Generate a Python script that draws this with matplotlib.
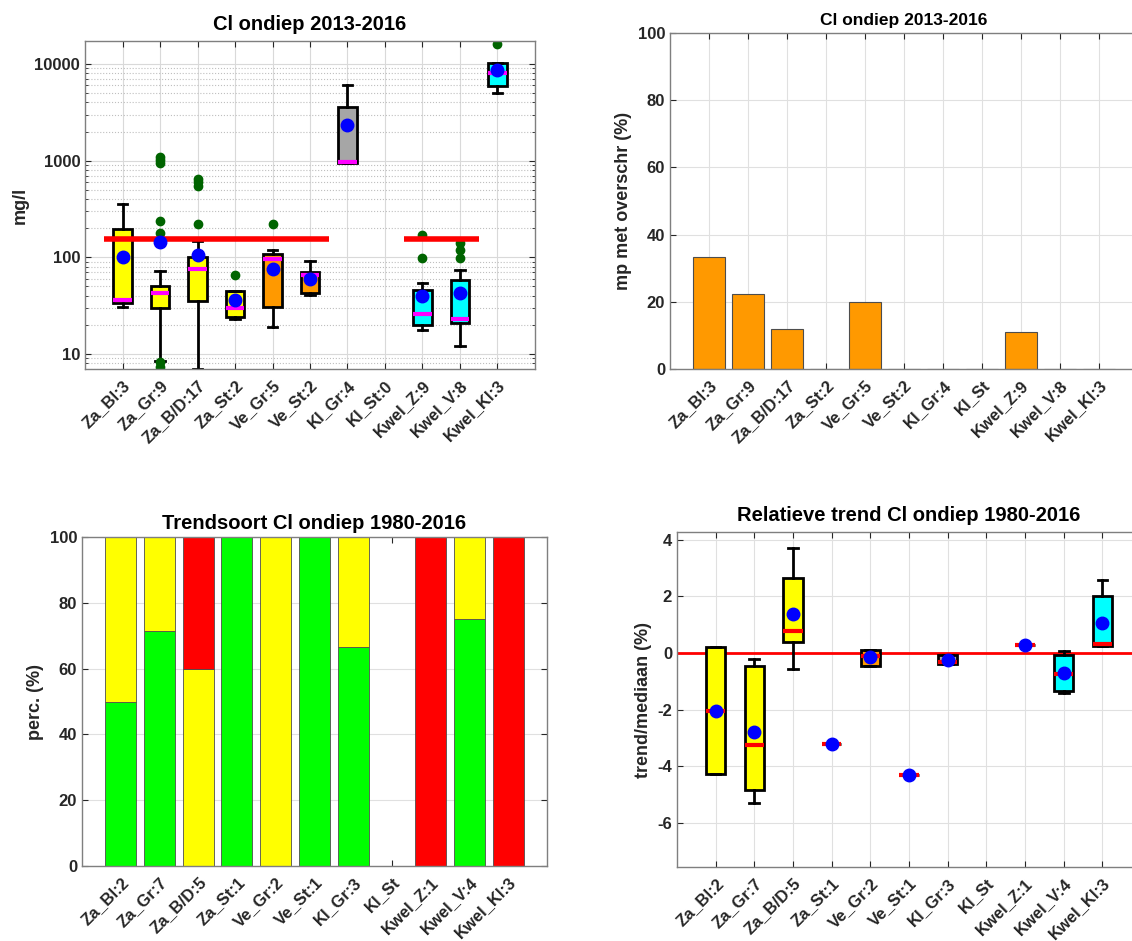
import numpy as np
import matplotlib
matplotlib.use("Agg")
import matplotlib.pyplot as plt

plt.rcParams['font.family'] = ['Liberation Sans', 'DejaVu Sans']
plt.rcParams['font.weight'] = 'bold'
plt.rcParams['axes.labelweight'] = 'bold'
plt.rcParams['axes.titleweight'] = 'bold'
plt.rcParams['axes.unicode_minus'] = False

# ---- data: Cl ondiep 2013-2016 (boxplots, mg/l) ----
labels_tl = ['Za_Bl:3', 'Za_Gr:9', 'Za_B/D:17', 'Za_St:2', 'Ve_Gr:5', 'Ve_St:2',
             'Kl_Gr:4', 'Kl_St:0', 'Kwel_Z:9', 'Kwel_V:8', 'Kwel_Kl:3']
groups = ['Za', 'Za', 'Za', 'Za', 'Ve', 'Ve', 'Kl', 'Kl', 'Kwel', 'Kwel', 'Kwel']
tl_whislo = [30.8, 8.5, 7.0, 22.8, 18.8, 40.5, 938, None, 17.7, 12.1, 5020]
tl_q1 = [33.8, 29.6, 35.1, 23.9, 30.8, 42.3, 938, None, 19.8, 20.7, 5890]
tl_med = [36, 42.3, 76.4, 29.8, 96, 66.4, 977, None, 25.8, 23.1, 8020]
tl_q3 = [196, 50.6, 99.6, 44.3, 109, 70.5, 3600, None, 45.7, 58, 10160]
tl_whishi = [352, 71.8, 148.6, 44.3, 120, 91, 6080, None, 54.3, 73.5, 10160]
tl_mean = [100, 144, 105, 36, 75, 60.2, 2333, None, 39.6, 42.3, 8730]
tl_fliers = [[], [1099, 1016, 947, 237, 178, 8.3, 7.3], [647, 600, 550, 219], [66.4],
             [219], [], [], [], [172, 98.5], [142, 118, 98.5], [15960]]
norm_value = 155
norm_ranges = [(0.5, 6.5), (8.5, 10.5)]

# ---- data: % meetpunten met overschrijding ----
labels_tr = ['Za_Bl:3', 'Za_Gr:9', 'Za_B/D:17', 'Za_St:2', 'Ve_Gr:5', 'Ve_St:2',
             'Kl_Gr:4', 'Kl_St', 'Kwel_Z:9', 'Kwel_V:8', 'Kwel_Kl:3']
tr_values = [33.3, 22.2, 11.8, 0, 20, 0, 0, 0, 11.1, 0, 0]

# ---- data: trendsoort 1980-2016 ----
labels_bl = ['Za_Bl:2', 'Za_Gr:7', 'Za_B/D:5', 'Za_St:1', 'Ve_Gr:2', 'Ve_St:1',
             'Kl_Gr:3', 'Kl_St', 'Kwel_Z:1', 'Kwel_V:4', 'Kwel_Kl:3']
bl_green = [50, 71.4, 0, 100, 0, 100, 66.7, 0, 0, 75, 0]
bl_yellow = [50, 28.6, 60, 0, 100, 0, 33.3, 0, 0, 25, 0]
bl_red = [0, 0, 40, 0, 0, 0, 0, 0, 100, 0, 100]

# ---- data: relatieve trend 1980-2016 ----
labels_br = labels_bl
br_whislo = [-4.28, -5.29, -0.58, -3.22, -0.45, -4.32, -0.40, None, 0.27, -1.42, 0.26]
br_q1 = [-4.28, -4.83, 0.40, -3.22, -0.45, -4.32, -0.40, None, 0.27, -1.34, 0.26]
br_med = [-2.03, -3.26, 0.78, -3.22, -0.10, -4.32, -0.30, None, 0.27, -0.74, 0.32]
br_q3 = [0.21, -0.47, 2.65, -3.22, 0.12, -4.32, -0.06, None, 0.27, -0.07, 2.01]
br_whishi = [0.21, -0.20, 3.71, -3.22, 0.12, -4.32, -0.06, None, 0.27, 0.08, 2.59]
br_mean = [-2.05, -2.80, 1.39, -3.22, -0.15, -4.32, -0.24, None, 0.27, -0.69, 1.05]

group_colors = {'Za': '#FFFF00', 'Ve': '#FF9900', 'Kl': '#A6A6A6', 'Kwel': '#00FFFF'}
axcol = '#262626'


def style_axes(ax, labels):
    x = np.arange(1, len(labels) + 1)
    ax.set_xlim(0, len(labels) + 1)
    ax.set_xticks(x)
    ax.set_xticklabels(labels, rotation=45, ha='right', rotation_mode='anchor',
                       fontsize=12, color=axcol)
    ax.tick_params(direction='in', length=4, color=axcol, labelcolor=axcol,
                   labelsize=12, top=True, right=True)
    ax.tick_params(axis='x', pad=6)
    for s in ax.spines.values():
        s.set_color('#7f7f7f')
        s.set_linewidth(1.0)
    ax.set_axisbelow(True)


def draw_boxes(ax, whislo, q1, med, q3, whishi, mean, fliers, medcolor):
    stats, pos, cols = [], [], []
    for i in range(len(med)):
        if med[i] is None:
            continue
        stats.append(dict(whislo=whislo[i], q1=q1[i], med=med[i], q3=q3[i],
                          whishi=whishi[i], fliers=fliers[i] if fliers else []))
        pos.append(i + 1)
        cols.append(group_colors[groups[i]])
    b = ax.bxp(stats, positions=pos, widths=0.5, patch_artist=True, manage_ticks=False,
               boxprops=dict(edgecolor='black', linewidth=2),
               whiskerprops=dict(color='black', linewidth=2),
               capprops=dict(color='black', linewidth=2),
               medianprops=dict(color=medcolor, linewidth=3),
               flierprops=dict(marker='o', markerfacecolor='#006400',
                               markeredgecolor='#006400', markersize=6),
               capwidths=0.25)
    for patch, c in zip(b['boxes'], cols):
        patch.set_facecolor(c)
    for i in range(len(mean)):
        if mean[i] is not None:
            ax.plot(i + 1, mean[i], 'o', color='#0000FF', markersize=9, zorder=5)


fig = plt.figure(figsize=(11.32, 9.41), dpi=100)

# top-left
ax1 = fig.add_axes([0.0751, 0.6079, 0.3975, 0.3486])
ax1.set_yscale('log')
ax1.grid(True, which='major', color='#d9d9d9', linewidth=0.8)
ax1.grid(True, which='minor', axis='y', color='#bfbfbf', linestyle=':', linewidth=0.8)
draw_boxes(ax1, tl_whislo, tl_q1, tl_med, tl_q3, tl_whishi, tl_mean, tl_fliers, '#FF00FF')
for x0, x1 in norm_ranges:
    ax1.hlines(norm_value, x0, x1, color='#FF0000', linewidth=4, zorder=4)
ax1.set_ylim(7, 17300)
ax1.set_yticks([10, 100, 1000, 10000])
ax1.set_yticklabels(['10', '100', '1000', '10000'])
style_axes(ax1, labels_tl)
ax1.tick_params(which='minor', direction='in', length=2, color=axcol, right=True)
ax1.set_ylabel('mg/l', fontsize=13, color=axcol)
ax1.set_title('Cl ondiep 2013-2016', fontsize=14.5, pad=8)

# top-right
ax2 = fig.add_axes([0.5919, 0.6079, 0.4134, 0.3571])
ax2.grid(True, color='#e0e0e0', linewidth=0.8)
ax2.bar(np.arange(1, 12), tr_values, width=0.8, color='#FF9900', edgecolor='#4d4d4d', linewidth=0.8)
ax2.set_ylim(0, 100)
ax2.set_yticks([0, 20, 40, 60, 80, 100])
style_axes(ax2, labels_tr)
ax2.set_ylabel('mp met overschr (%)', fontsize=13, color=axcol)
ax2.set_title('Cl ondiep 2013-2016', fontsize=12.5, pad=6)

# bottom-left
ax3 = fig.add_axes([0.0724, 0.0797, 0.4108, 0.3496])
ax3.grid(True, axis='y', color='#e0e0e0', linewidth=0.8)
xb = np.arange(1, 12)
ax3.bar(xb, bl_green, width=0.8, color='#00FF00', edgecolor='#4d4d4d', linewidth=0.6)
ax3.bar(xb, bl_yellow, width=0.8, bottom=bl_green, color='#FFFF00', edgecolor='#4d4d4d', linewidth=0.6)
ax3.bar(xb, bl_red, width=0.8, bottom=np.add(bl_green, bl_yellow), color='#FF0000',
        edgecolor='#4d4d4d', linewidth=0.6)
ax3.set_ylim(0, 100)
ax3.set_yticks([0, 20, 40, 60, 80, 100])
style_axes(ax3, labels_bl)
ax3.set_ylabel('perc. (%)', fontsize=13, color=axcol)
ax3.set_title('Trendsoort Cl ondiep 1980-2016', fontsize=14.5, pad=6)

# bottom-right
ax4 = fig.add_axes([0.598, 0.0786, 0.41, 0.356])
ax4.grid(True, color='#e0e0e0', linewidth=0.8)
ax4.axhline(0, color='#FF0000', linewidth=2, zorder=1.5)
draw_boxes(ax4, br_whislo, br_q1, br_med, br_q3, br_whishi, br_mean, None, '#FF0000')
ax4.set_ylim(-7.55, 4.27)
ax4.set_yticks([-6, -4, -2, 0, 2, 4])
style_axes(ax4, labels_br)
ax4.set_ylabel('trend/mediaan (%)', fontsize=13, color=axcol)
ax4.set_title('Relatieve trend Cl ondiep 1980-2016', fontsize=14.5, pad=8)

fig.savefig('out.png', dpi=100)
